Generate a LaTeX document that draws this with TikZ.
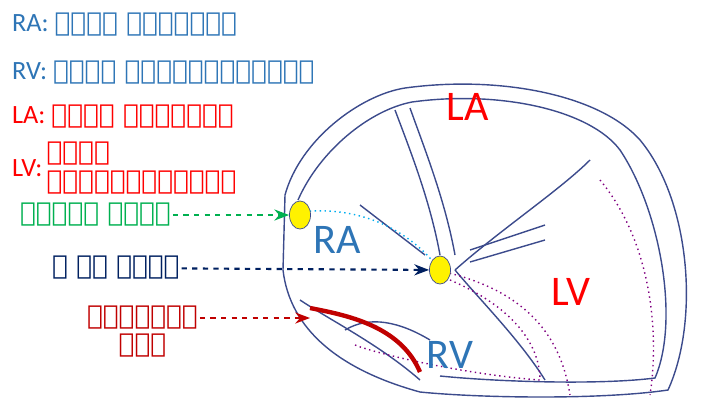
\documentclass[tikz,border=0pt]{standalone}
\usepackage{fontspec}
\newfontfamily\mlfont{DejaVu Sans}
\setmainfont{Carlito}
\usetikzlibrary{positioning, arrows.meta, shapes.geometric}
\definecolor{raBlue}{RGB}{46,117,182}
\definecolor{wallBlue}{RGB}{60,75,140}
\definecolor{nodeGreen}{RGB}{0,176,80}
\definecolor{avNavy}{RGB}{0,32,96}
\definecolor{pathRed}{RGB}{192,0,0}
\tikzstyle{keyText}=[anchor=west, font=\fontsize{15}{17}\selectfont, inner sep=1pt]
\tikzstyle{chamber}=[font=\fontsize{24}{26}\selectfont]
\tikzstyle{wall}=[draw=wallBlue, line width=0.8pt]
\tikzstyle{nodeDot}=[draw=wallBlue, fill=yellow, ellipse, minimum width=12pt, minimum height=16pt, inner sep=0pt]
\tikzstyle{pointer}=[-{Stealth}, dashed, very thick]

\begin{document}
\begin{tikzpicture}[x=0.02cm, y=-0.02cm]
    \useasboundingbox (0,0) rectangle (709,416);
    % heart walls
    \draw[wall] (285,195) .. controls (300,140) and (360,95) .. (405,88)
        .. controls (500,75) and (600,95) .. (640,140)
        .. controls (690,200) and (700,320) .. (668,390)
        .. controls (600,400) and (480,398) .. (420,392)
        .. controls (340,370) and (290,330) .. (283,270) -- cycle;
    \draw[wall] (298,200) .. controls (320,150) and (370,110) .. (412,102)
        .. controls (500,90) and (590,110) .. (620,150)
        .. controls (660,210) and (680,320) .. (655,378)
        .. controls (600,385) and (500,382) .. (440,376);
    \draw[wall] (395,110) .. controls (410,150) and (430,200) .. (440,255);
    \draw[wall] (410,108) .. controls (425,150) and (445,200) .. (455,255);
    \draw[wall] (360,205) -- (425,255);
    \draw[wall] (470,250) -- (545,225);
    \draw[wall] (470,262) -- (545,240);
    \draw[wall] (455,270) .. controls (480,300) and (520,340) .. (545,380);
    \draw[wall] (455,270) .. controls (500,230) and (560,190) .. (590,160);
    \draw[wall] (345,330) .. controls (370,315) and (400,322) .. (430,340);
    \draw[wall] (300,300) .. controls (330,320) and (380,345) .. (420,380);
    % conduction
    \draw[cyan, dotted, thick] (300,212) .. controls (360,205) and (410,230) .. (440,270);
    \draw[violet, dotted, thick] (445,272) .. controls (520,290) and (560,330) .. (570,395);
    \draw[violet, dotted, thick] (450,280) .. controls (520,310) and (540,350) .. (540,380) .. controls (470,375) and (380,355) .. (355,345);
    \draw[violet, dotted, thick] (600,180) .. controls (650,240) and (660,330) .. (650,395);
    \draw[pathRed, line width=2.5pt] (310,308) .. controls (345,315) and (400,325) .. (420,372);
    \node[nodeDot] (sa) at (300,215) {};
    \node[nodeDot] (av) at (440,270) {};
    \coordinate (acc) at (310,318);
    % chambers
    \node[chamber, raBlue] (ra) at (337,240) {RA};
    \node[chamber, red] (la) at (468,107) {LA};
    \node[chamber, red] (lv) at (571,292) {LV};
    \node[chamber, raBlue] (rv) at (450,355) {RV};
    % key
    \node[keyText, raBlue] (kra) at (10,25) {RA: {\mlfont വലത്  ഏട്രിയം}};
    \node[keyText, raBlue] (krv) at (10,73) {RV: {\mlfont വലത്  വെൻട്രിക്കിൾ}};
    \node[keyText, red] (kla) at (10,117) {LA: {\mlfont ഇടത്  ഏട്രിയം}};
    \node[keyText, red] (klv) at (10,168) {LV: };
    \node[keyText, red, align=left] (klvt) at (klv.east) {\mlfont ഇടത്\\\mlfont വെൻട്രിക്കിൾ};
    \node[keyText, nodeGreen] (ksa) at (18,215) {\mlfont സൈനസ്  നോഡ്};
    \node[keyText, avNavy] (kav) at (50,268) {\mlfont എ വി നോഡ്};
    \node[keyText, pathRed] (kacc) at (85,318) {\mlfont ആക്സസറി};
    \node[keyText, pathRed, below=0pt of kacc] (kpath) {\mlfont പാത};
    \draw[pointer, nodeGreen] (ksa) -- (sa);
    \draw[pointer, avNavy] (kav) -- (av);
    \draw[pointer, pathRed] (kacc) -- (acc);
\end{tikzpicture}
\end{document}
